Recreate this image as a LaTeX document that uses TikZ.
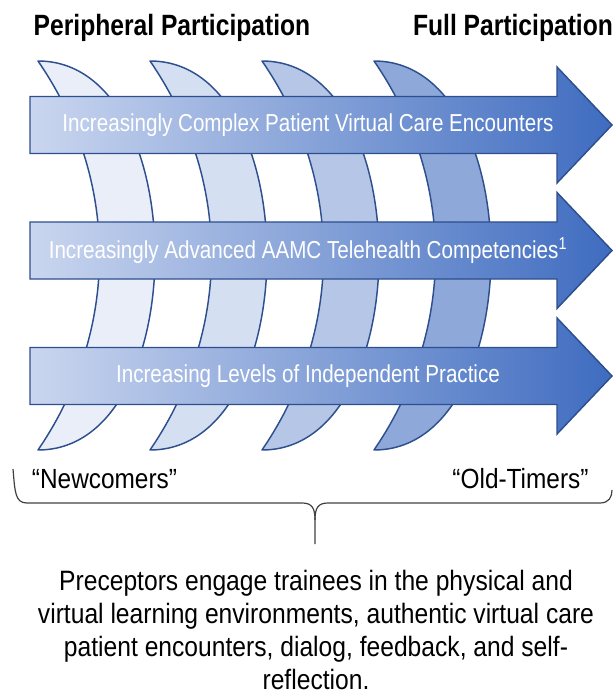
\documentclass[tikz,border=0pt]{standalone}
\usepackage{fontspec}
\setmainfont{Liberation Sans}[FakeStretch=0.88]
\newfontfamily\narrowfont{Liberation Sans}[FakeStretch=0.84]

\definecolor{lineblue}{HTML}{2E4F8E}
\definecolor{lightblue}{HTML}{CAD6EF}
\definecolor{darkblue}{HTML}{3F6CC0}
\definecolor{cres1}{HTML}{E9EEF8}
\definecolor{cres2}{HTML}{D5DFF2}
\definecolor{cres3}{HTML}{B5C6E6}
\definecolor{cres4}{HTML}{8EA8DA}
\definecolor{bracegray}{HTML}{404040}

\tikzstyle{band}=[draw=lineblue, line width=1.1pt, line join=round]
\tikzstyle{arrowbox}=[draw=lineblue, line width=1.1pt, line join=miter, left color=lightblue, right color=darkblue]
\tikzstyle{brace}=[draw=bracegray, line width=0.9pt]
\tikzstyle{toptext}=[font=\narrowfont\bfseries\fontsize{22}{26}\selectfont]
\tikzstyle{arrowtext}=[text=white, font=\narrowfont\fontsize{18.4}{22}\selectfont]
\tikzstyle{endtext}=[font=\fontsize{20.8}{25}\selectfont]
\tikzstyle{notetext}=[align=center, font=\fontsize{21}{24.75}\selectfont]

\begin{document}
\begin{tikzpicture}[x=0.75pt,y=-0.75pt]
\useasboundingbox (0,0) rectangle (613,695);

\foreach \i/\c in {0/cres1,1/cres2,2/cres3,3/cres4}
  \draw [band, fill=\c, shift={(112*\i,0)}] (38,61) .. controls (120,180) and (120,330) .. (38,450) .. controls (194,450) and (194,61) .. cycle;

\foreach \y in {125,250.5,376}
  \draw [arrowbox] (30,\y-28.5) -- (557,\y-28.5) -- (557,\y-58) -- (612,\y) -- (557,\y+58) -- (557,\y+28.5) -- (30,\y+28.5) -- cycle;

\node [toptext] (peri) at (172,28) {Peripheral Participation};
\node [toptext] (full) at (513,28) {Full Participation};

\node [arrowtext] (enc) at (308,125) {Increasingly Complex Patient Virtual Care Encounters};
\node [arrowtext] (comp) at (308,250.5) {Increasingly Advanced AAMC Telehealth Competencies\textsuperscript{1}};
\node [arrowtext] (prac) at (308,376) {Increasing Levels of Independent Practice};

\node [endtext] (new) at (104.5,479) {“Newcomers”};
\node [endtext] (old) at (520.5,479) {“Old-Timers”};

\draw [brace] (13,469) .. controls (15,492) and (15,503) .. (27,503) -- (302,503) .. controls (312,503) and (315,508) .. (315,520) -- (315,544) coordinate (tip);
\draw [brace] (315,520) .. controls (315,508) and (318,503) .. (328,503) -- (600,503) .. controls (609,503) and (612,497) .. (612,490);

\node [notetext] (note) at (316,630) {Preceptors engage trainees in the physical and\\virtual learning environments, authentic virtual care\\patient encounters, dialog, feedback, and self-\\reflection.};

\end{tikzpicture}
\end{document}
